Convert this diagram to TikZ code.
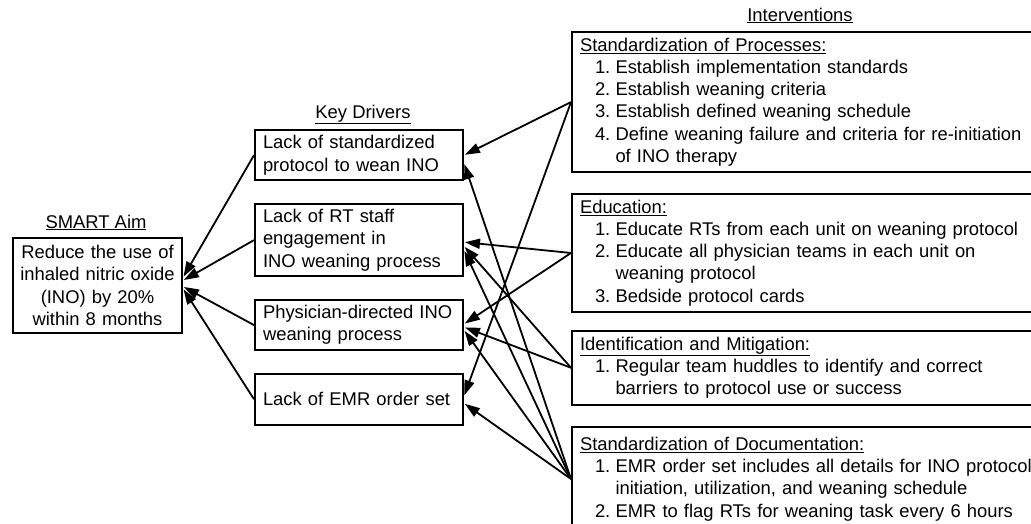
\documentclass[tikz,border=0pt]{standalone}
\usepackage{fontspec}
\setmainfont{Liberation Sans}
\usetikzlibrary{arrows.meta,positioning}

\newcommand{\ivitem}[2]{\hspace*{15pt}\makebox[20.5pt][l]{#1}#2}
\newcommand{\ivmore}[1]{\hspace*{35.5pt}#1}

\begin{document}
\begin{tikzpicture}[x=1pt,y=-1pt,shorten >=1pt,node distance=21.5pt,
	every node/.style={font=\fontsize{18.4}{22.2}\selectfont},
	box/.style={draw,line width=2pt,align=left,inner xsep=8pt,inner ysep=6pt,anchor=north west},
	driver/.style={box,text width=192pt,inner ysep=5.5pt},
	interv/.style={box,text width=470pt},
	heading/.style={anchor=base,inner sep=0pt},
	link/.style={-{Triangle[length=15pt,width=10pt]},line width=1.8pt}]
\useasboundingbox (0,0) rectangle (1031,523);
\clip (0,0) rectangle (1031,523);

% aim
\node[box,align=center,text width=163pt,inner xsep=3pt,inner ysep=5.5pt,minimum height=95pt,anchor=west]
	(aim) at (12,285.5) {Reduce the use of\\inhaled nitric oxide\\(INO) by 20\%\\within 8 months};
\node[heading] (aimhead) at (96,228) {\underline{SMART Aim}};

% key drivers
\node[driver] (prot) at (254,129) {Lack of standardized\\protocol to wean INO};
\node[driver] (staff) [below=of prot] {Lack of RT staff\\engagement in\\INO weaning process};
\node[driver] (phys) [below=of staff] {Physician-directed INO\\weaning process};
\node[driver,minimum height=51pt] (emr) [below=of phys] {Lack of EMR order set};
\node[heading] (kdhead) at (363,118) {\underline{Key Drivers}};

% interventions
\node[interv] (procs) at (571,31) {\underline{Standardization of Processes:}\\
	\ivitem{1.}{Establish implementation standards}\\
	\ivitem{2.}{Establish weaning criteria}\\
	\ivitem{3.}{Establish defined weaning schedule}\\
	\ivitem{4.}{Define weaning failure and criteria for re-initiation}\\
	\ivmore{of INO therapy}};
\node[interv] (edu) at (571,193) {\underline{Education:}\\
	\ivitem{1.}{Educate RTs from each unit on weaning protocol}\\
	\ivitem{2.}{Educate all physician teams in each unit on}\\
	\ivmore{weaning protocol}\\
	\ivitem{3.}{Bedside protocol cards}};
\node[interv] (ident) at (571,330) {\underline{Identification and Mitigation:}\\
	\ivitem{1.}{Regular team huddles to identify and correct}\\
	\ivmore{barriers to protocol use or success}};
\node[interv,minimum height=104pt] (docs) at (571,426) {\underline{Standardization of Documentation:}\\
	\ivitem{1.}{EMR order set includes all details for INO protocol}\\
	\ivmore{initiation, utilization, and weaning schedule}\\
	\ivitem{2.}{EMR to flag RTs for weaning task every 6 hours}};
\node[heading] (ivhead) at (800,21) {\underline{Interventions}};

% drivers to aim
\path[link] (prot.west) edge ([yshift=8pt]aim.east)
	(staff.west) edge ([yshift=5pt]aim.east)
	(phys.west) edge ([yshift=-1pt]aim.east)
	(emr.west) edge ([yshift=-3pt]aim.east);

% interventions to drivers
\path[link] (procs.west) edge (prot.east) edge ([yshift=3pt]emr.east)
	(edu.west) edge ([yshift=-2pt]staff.east) edge ([yshift=1pt]phys.east)
	(ident.west) edge ([yshift=-6pt]staff.east) edge ([yshift=-2pt]phys.east)
	(docs.west) edge ([yshift=-8pt]prot.east) edge ([yshift=-10pt]staff.east)
	edge ([yshift=-5pt]phys.east) edge ([yshift=-4pt]emr.east);
\end{tikzpicture}
\end{document}
